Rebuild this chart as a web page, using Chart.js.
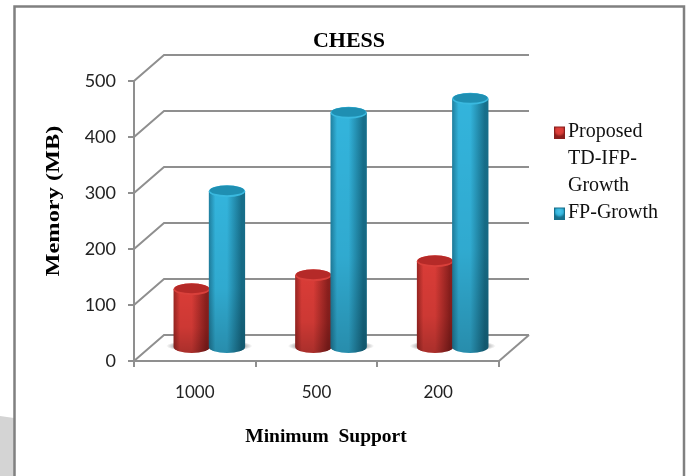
<!DOCTYPE html>
<html>
<head>
<meta charset="utf-8">
<style>
html,body{margin:0;padding:0;background:#fff}
canvas{display:block}
</style>
<script src="https://cdn.jsdelivr.net/npm/chart.js@4/dist/chart.umd.min.js"></script>
</head>
<body>
<canvas id="chart" width="689" height="476"></canvas>
<script>
// CHESS dataset: peak memory by minimum support threshold
const categories = ['1000', '500', '200'];
const proposedMemory = [105, 130, 155];
const fpGrowthMemory = [280, 420, 445];
const proposedLabel = ['Proposed', 'TD-IFP-', 'Growth'];
const fpGrowthLabel = 'FP-Growth';
const yTicks = [0, 100, 200, 300, 400, 500];

const GRID = '#8f8f8f';
const SERIF = '"Liberation Serif", serif';
const DEPTH = { x: 30, y: -26 };      // back wall offset of the pseudo-3D box
const MID = { x: 14.5, y: -13 };      // cylinders stand halfway into the box

const palettes = [
  { edgeL: '#9a2522', mid: '#d93c37', edgeR: '#8a1f1d', cap: '#b52a28', rim: '#d9403b', glow: '#e2413c' },
  { edgeL: '#1f7f9f', mid: '#33b4dc', edgeR: '#176f8b', cap: '#1f8fb2', rim: '#3ab9df', glow: '#4cc6ea' }
];

// Small bevelled legend swatch; the transparent strip on the left keeps the
// box next to its label, closer than the legend's usual gap
function swatch(p) {
  const cv = document.createElement('canvas');
  cv.width = 18; cv.height = 13;
  const c = cv.getContext('2d');
  c.fillStyle = p.edgeR;
  c.fillRect(7, 1, 11, 12);
  const g = c.createRadialGradient(12.5, 5, 0, 12.5, 5, 6);
  g.addColorStop(0, p.glow);
  g.addColorStop(0.6, p.mid);
  g.addColorStop(1, p.edgeR);
  c.fillStyle = g;
  c.fillRect(8, 2, 9, 10);
  return cv;
}

// Slide page frame and the grey wedge of the slide behind it
const framePlugin = {
  id: 'frame',
  beforeDraw(chart) {
    const c = chart.ctx;
    c.save();
    c.fillStyle = '#d4d4d4';
    c.beginPath();
    c.moveTo(0, 416); c.lineTo(14, 418); c.lineTo(14, 476); c.lineTo(0, 476);
    c.closePath(); c.fill();
    c.strokeStyle = '#808080';
    c.lineWidth = 2.5;
    c.beginPath();
    c.moveTo(14.5, 476); c.lineTo(14.5, 6.5); c.lineTo(684, 6.5); c.lineTo(684, 476);
    c.stroke();
    c.restore();
  }
};

// The legend reserves the room of the box depth and sits clear of it
const legendPlacement = {
  id: 'legendPlacement',
  beforeLayout(chart) {
    const lg = chart.legend;
    if (!lg.reservedFit) {
      const fit = lg.fit;
      lg.fit = function () { fit.call(this); this.width = 179; };
      lg.reservedFit = true;
    }
  },
  afterLayout(chart) {
    const lg = chart.legend;
    lg.left = 554;
    lg.right = 680;
    lg.top = 122;
    lg.bottom = 240;
  }
};

// Back wall, side wall and floor of the box, hung off the value scale
const wallsPlugin = {
  id: 'walls',
  beforeDatasetsDraw(chart) {
    const c = chart.ctx, y = chart.scales.y, { left, right } = chart.chartArea;
    c.save();
    c.strokeStyle = GRID;
    c.lineWidth = 2;
    y.ticks.forEach(t => {
      const py = y.getPixelForValue(t.value);
      c.beginPath();
      c.moveTo(left, py);
      c.lineTo(left + DEPTH.x, py + DEPTH.y);
      c.lineTo(right + DEPTH.x, py + DEPTH.y);
      c.stroke();
    });
    const floor = y.getPixelForValue(0);
    c.beginPath();
    c.moveTo(right, floor);
    c.lineTo(right + DEPTH.x, floor + DEPTH.y);
    c.stroke();
    // soft shadows the cylinders cast on the floor
    chart.data.datasets.forEach((ds, i) => {
      chart.getDatasetMeta(i).data.forEach(bar => {
        const g = c.createRadialGradient(0, 0, 0, 0, 0, 1);
        g.addColorStop(0, 'rgba(90,90,90,0.55)');
        g.addColorStop(0.75, 'rgba(90,90,90,0.35)');
        g.addColorStop(1, 'rgba(90,90,90,0)');
        c.save();
        c.translate(bar.x + MID.x, bar.base + MID.y - 1);
        c.scale(bar.width * 0.72, 5);
        c.fillStyle = g;
        c.beginPath(); c.arc(0, 0, 1, 0, Math.PI * 2); c.fill();
        c.restore();
      });
    });
    c.restore();
  }
};

// Turns each flat bar into a shaded cylinder standing in the box; they are
// painted series by series so the second overlaps the first
const cylinderPlugin = {
  id: 'cylinder',
  beforeDatasetDraw(chart) {
    chart.ctx.save();
    chart.ctx.translate(MID.x, MID.y);
  },
  afterDatasetDraw(chart) {
    chart.ctx.restore();
  },
  afterDatasetsDraw(chart) {
    const c = chart.ctx;
    c.save();
    c.translate(MID.x, MID.y);
    chart.data.datasets.forEach((ds, i) => {
      const p = palettes[i];
      chart.getDatasetMeta(i).data.forEach(bar => {
        const w = bar.width + 1, l = bar.x - w / 2, r = bar.x + w / 2, ry = w * 0.165;
        const body = new Path2D();
        body.moveTo(l, bar.y);
        body.lineTo(l, bar.base);
        body.ellipse(bar.x, bar.base, w / 2, ry, 0, Math.PI, 0, true);
        body.lineTo(r, bar.y);
        body.closePath();

        const side = c.createLinearGradient(l, 0, r, 0);
        side.addColorStop(0, p.edgeL);
        side.addColorStop(0.18, p.mid);
        side.addColorStop(0.5, p.mid);
        side.addColorStop(0.9, p.edgeR);
        side.addColorStop(1, p.edgeR);
        c.fillStyle = side;
        c.fill(body);

        const fade = c.createLinearGradient(0, bar.y, 0, bar.base + ry);
        fade.addColorStop(0, 'rgba(0,0,0,0)');
        fade.addColorStop(0.6, 'rgba(0,0,0,0.06)');
        fade.addColorStop(1, 'rgba(0,0,0,0.22)');
        c.fillStyle = fade;
        c.fill(body);

        c.beginPath();
        c.ellipse(bar.x, bar.y, w / 2, ry, 0, 0, Math.PI * 2);
        c.fillStyle = p.rim;
        c.fill();
        c.beginPath();
        c.ellipse(bar.x, bar.y - 0.8, w / 2 - 1, ry - 1.2, 0, 0, Math.PI * 2);
        c.fillStyle = p.cap;
        c.fill();
      });
    });
    c.restore();
  }
};

// Axis captions sit off-centre against the box, so they are placed by hand
const captionsPlugin = {
  id: 'captions',
  afterDraw(chart) {
    const c = chart.ctx;
    c.save();
    c.fillStyle = '#000';
    c.textAlign = 'center';
    c.textBaseline = 'middle';
    c.font = 'bold 19.5px ' + SERIF;
    c.fillText('Minimum  Support', 326, 437);
    c.translate(54, 201);
    c.rotate(-Math.PI / 2);
    c.scale(1.25, 1);
    c.fillText('Memory (MB)', 0, 0);
    c.restore();
  }
};

new Chart(document.getElementById('chart'), {
  type: 'bar',
  data: {
    labels: categories,
    datasets: [
      { label: proposedLabel, data: proposedMemory,
        backgroundColor: '#c22f2c', borderWidth: 0,
        categoryPercentage: 0.58, barPercentage: 1 },
      { label: fpGrowthLabel, data: fpGrowthMemory,
        backgroundColor: '#2ba6cc', borderWidth: 0,
        categoryPercentage: 0.58, barPercentage: 1 }
    ]
  },
  plugins: [legendPlacement, framePlugin, wallsPlugin, cylinderPlugin, captionsPlugin],
  options: {
    responsive: false,
    animation: false,
    layout: { padding: { left: 20, right: 11, top: 30, bottom: 60 } },
    plugins: {
      tooltip: { enabled: false },
      title: {
        display: true, text: 'CHESS', color: '#000',
        font: { family: SERIF, size: 22, weight: 'bold', lineHeight: 1 },
        padding: { top: 0, bottom: 29 }
      },
      legend: {
        position: 'right',
        align: 'start',
        labels: {
          color: '#111',
          font: { family: SERIF, size: 20, lineHeight: 1.35 },
          usePointStyle: true, pointStyleWidth: 4, padding: 0,
          generateLabels(chart) {
            return chart.data.datasets.map((ds, i) => ({
              text: ds.label, datasetIndex: i,
              pointStyle: swatch(palettes[i]),
              fillStyle: ds.backgroundColor, lineWidth: 0,
              fontColor: '#111'
            }));
          }
        }
      }
    },
    scales: {
      x: {
        afterFit(s) { s.height = 55; },
        border: { color: GRID, width: 2 },
        grid: { color: GRID, lineWidth: 2, drawOnChartArea: false, tickLength: 6 },
        ticks: { color: '#222', padding: 15, font: { family: 'Lato', size: 17 } }
      },
      y: {
        min: 0, max: 500,
        afterBuildTicks(s) { s.ticks = yTicks.map(value => ({ value })); },
        afterFit(s) { s.width = 114; },
        border: { color: GRID, width: 2 },
        grid: { color: GRID, lineWidth: 2, drawOnChartArea: false, tickLength: 6 },
        ticks: { color: '#222', padding: 12, font: { family: 'Lato', size: 18 } }
      }
    }
  }
});
</script>
</body>
</html>
